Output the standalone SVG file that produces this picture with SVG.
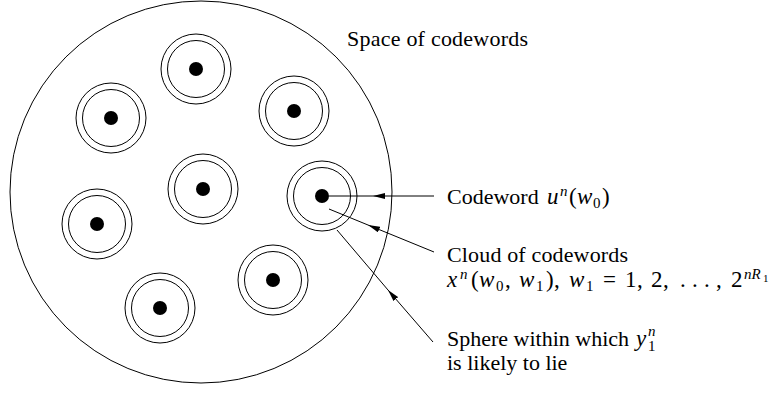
<svg xmlns="http://www.w3.org/2000/svg" width="778" height="396" viewBox="0 0 778 396">
  <style>
    .ring { fill: none; stroke: #000; stroke-width: 1; }
    .dot { fill: #000; }
    .conn { fill: none; stroke: #000; stroke-width: 1; marker-mid: url(#head); }
    text { font-family: "Liberation Serif", "Times New Roman", serif; font-size: 22px; fill: #000; }
    .m { font-size: 23px; }
    .it { font-style: italic; }
    .sc { font-size: 15px; }
    .ssc { font-size: 11px; }
  </style>
  <defs>
    <marker id="head" viewBox="0 0 12 6" refX="12" refY="3" markerWidth="12" markerHeight="6" markerUnits="userSpaceOnUse" orient="auto">
      <path d="M0,0 L12,3 L0,6 z" fill="#000"/>
    </marker>
    <g id="cell">
      <circle class="ring" r="35"/>
      <circle class="ring" r="28.5"/>
      <circle class="dot" r="7"/>
    </g>
  </defs>
  <rect width="778" height="396" fill="#fff"/>

  <!-- space of all codewords -->
  <g id="space">
    <circle class="ring" cx="201" cy="192" r="191"/>
    <text x="347" y="46" textLength="181">Space of codewords</text>
  </g>

  <!-- codeword clouds with their decoding spheres -->
  <g id="cloud1"><use href="#cell" x="196" y="69"/></g>
  <g id="cloud2"><use href="#cell" x="111" y="118"/></g>
  <g id="cloud3"><use href="#cell" x="294" y="111"/></g>
  <g id="cloud4"><use href="#cell" x="203" y="189"/></g>
  <g id="cloud5"><use href="#cell" x="322" y="196"/></g>
  <g id="cloud6"><use href="#cell" x="97" y="224"/></g>
  <g id="cloud7"><use href="#cell" x="273" y="280"/></g>
  <g id="cloud8"><use href="#cell" x="160" y="308"/></g>

  <!-- callout leaders -->
  <g id="connectors">
    <path class="conn" d="M434,196 L373,196 L329,196"/>
    <path class="conn" d="M434,252 L368,225 L329,209"/>
    <path class="conn" d="M433,342 L388,290 L337,230"/>
  </g>

  <!-- labels; math set glyph by glyph -->
  <g id="label-codeword">
    <text y="204"><tspan x="447">Codeword</tspan><tspan class="m it" x="547">u</tspan><tspan class="sc it" x="560" y="196">n</tspan><tspan class="m" x="569" y="204">(</tspan><tspan class="m it" x="577">w</tspan><tspan class="sc" x="593" y="208">0</tspan><tspan class="m" x="602" y="204">)</tspan></text>
  </g>
  <g id="label-cloud">
    <text x="447" y="262" textLength="181">Cloud of codewords</text>
    <text y="287"><tspan class="m it" x="447">x</tspan><tspan class="sc it" x="460" y="279">n</tspan><tspan class="m" x="471" y="287">(</tspan><tspan class="m it" x="479">w</tspan><tspan class="sc" x="496" y="291">0</tspan><tspan class="m" x="505" y="287">,</tspan><tspan class="m it" x="519">w</tspan><tspan class="sc" x="536" y="291">1</tspan><tspan class="m" x="546" y="287">)</tspan><tspan class="m" x="554">,</tspan><tspan class="m it" x="569">w</tspan><tspan class="sc" x="586" y="291">1</tspan><tspan class="m" x="603" y="287">=</tspan><tspan class="m" x="625">1</tspan><tspan class="m" x="637">,</tspan><tspan class="m" x="651">2</tspan><tspan class="m" x="663">,</tspan><tspan class="m" x="680">.</tspan><tspan class="m" x="692">.</tspan><tspan class="m" x="704">.</tspan><tspan class="m" x="716">,</tspan><tspan class="m" x="731">2</tspan><tspan class="sc it" x="744" y="279">nR</tspan><tspan class="ssc" x="763" y="282">1</tspan></text>
  </g>
  <g id="label-sphere">
    <text y="346"><tspan x="447">Sphere within which</tspan><tspan class="m it" x="636">y</tspan><tspan class="sc" x="648" y="351">1</tspan><tspan class="sc it" x="648" y="336">n</tspan></text>
    <text x="447" y="370">is likely to lie</text>
  </g>
</svg>
